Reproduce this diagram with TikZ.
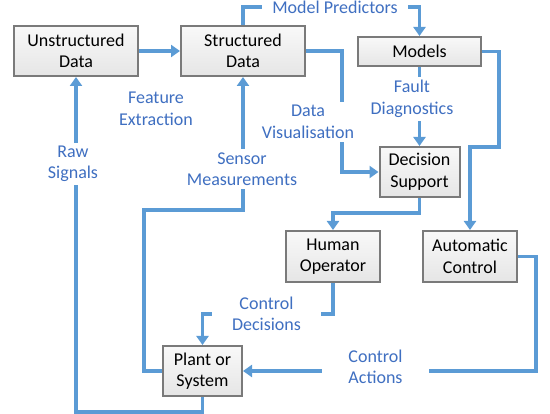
\documentclass[tikz,border=0pt]{standalone}
\usepackage{fontspec}
\setmainfont{Carlito}
\usetikzlibrary{arrows.meta,shadows}
\definecolor{lineblue}{HTML}{5B9BD5}
\definecolor{textblue}{HTML}{3F6FC1}
\definecolor{boxborder}{HTML}{7A7A7A}
\begin{document}
\begin{tikzpicture}[x=1pt,y=-1pt,
 box/.style={draw=boxborder, line width=2pt, top color=gray!5, bottom color=gray!20, align=center,
   font=\fontsize{18}{21.5}\selectfont, inner sep=0pt,
   drop shadow={shadow xshift=1pt, shadow yshift=-1pt, opacity=0.3}},
 conn/.style={draw=lineblue, line width=3.2pt, -{Triangle[width=12pt,length=9pt]}},
 lbl/.style={text=textblue, fill=white, align=center, font=\fontsize{18}{21.5}\selectfont, inner sep=3pt}]
\path[use as bounding box] (0,0) rectangle (550,414);
% boxes
\node[box, minimum width=124pt, minimum height=50pt] (U) at (76,51) {Unstructured\\Data};
\node[box, minimum width=124pt, minimum height=50pt] (S) at (243,51) {Structured\\Data};
\node[box, minimum width=123pt, minimum height=29pt] (M) at (419.5,51.5) {Models};
\node[box, minimum width=80pt, minimum height=50pt] (D) at (419.5,172) {Decision\\Support};
\node[box, minimum width=94pt, minimum height=51pt] (H) at (333,256.5) {Human\\Operator};
\node[box, minimum width=94pt, minimum height=51pt] (A) at (470,256.5) {Automatic\\Control};
\node[box, minimum width=79pt, minimum height=50pt] (P) at (202.5,371) {Plant or\\System};
% connectors
\draw[conn] (U) -- (S);
\draw[conn] (S.north) -- (243,7) -| (M.north);
\draw[conn] (S.east) -- (342,51) |- (D.west);
\draw[conn] (M.south) -- (D.north);
\draw[conn] (M.east) -- (499,51.5) |- (470,147) -- (A.north);
\draw[conn] (D.south) |- (333,213) -- (H.north);
\draw[conn] (H.south) |- (202.5,314) -- (P.north);
\draw[conn] (A.east) -- (536,256.5) |- (P.east);
\draw[conn] (P.south) |- (76,412) -- (U.south);
\draw[conn] (P.west) -- (144,371) |- (243,210) -- (S.south);
% labels
\node[lbl, inner xsep=10pt] (lmp) at (335,7) {Model Predictors};
\node[lbl] (lfe) at (156,109) {Feature\\Extraction};
\node[lbl] (ldv) at (308,122) {Data\\Visualisation};
\node[lbl] (lfd) at (412,99) {Fault\\Diagnostics};
\node[lbl] (lrs) at (73,164) {Raw\\Signals};
\node[lbl] (lsm) at (242,169) {Sensor\\Measurements};
\node[lbl, inner xsep=20pt] (lcd) at (266.5,314) {Control\\Decisions};
\node[lbl, inner xsep=26pt] (lca) at (375.5,367) {Control\\Actions};
\end{tikzpicture}
\end{document}
